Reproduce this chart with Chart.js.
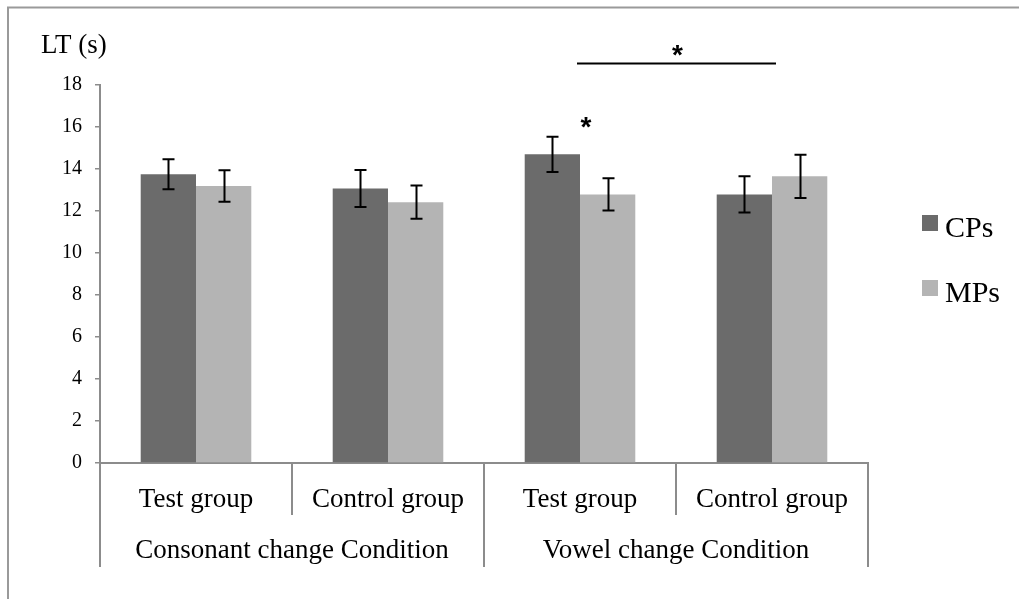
<!DOCTYPE html>
<html>
<head>
<meta charset="utf-8">
<script src="https://cdn.jsdelivr.net/npm/chart.js@4.4.1/dist/chart.umd.min.js"></script>
<style>
  html, body { margin: 0; padding: 0; background: #fff; }
  #wrap { width: 1019px; height: 599px; position: relative; }
</style>
</head>
<body>
<div id="wrap"><canvas id="c" width="1019" height="599"></canvas></div>
<script>
// ---- data ----
const categories = ["Test group", "Control group", "Test group", "Control group"];
const groupLabels = ["Consonant change Condition", "Vowel change Condition"];
const seriesNames = ["CPs", "MPs"];
const cpsValues = [13.75, 13.07, 14.70, 12.79];
const mpsValues = [13.19, 12.42, 12.79, 13.65];
const cpsErrors = [0.72, 0.88, 0.84, 0.86];
const mpsErrors = [0.75, 0.79, 0.77, 1.03];
const yTicks = [0, 2, 4, 6, 8, 10, 12, 14, 16, 18];
const yAxisTitle = "LT (s)";
const sigMark = "*";

const SERIF = "'Liberation Serif', 'Times New Roman', serif";
const AXIS_GRAY = '#8c8c8c';

const decor = {
  id: 'decor',
  beforeDraw(chart) {
    const ctx = chart.ctx;
    ctx.save();
    ctx.fillStyle = '#fff';
    ctx.fillRect(0, 0, chart.width, chart.height);
    // outer frame (top + left)
    ctx.strokeStyle = '#9a9a9a';
    ctx.lineWidth = 2;
    ctx.beginPath();
    ctx.moveTo(8, 599);
    ctx.lineTo(8, 7.5);
    ctx.lineTo(1019, 7.5);
    ctx.stroke();
    ctx.restore();
  },
  afterDraw(chart) {
    const ctx = chart.ctx;
    const x = chart.scales.x, y = chart.scales.y;
    const area = chart.chartArea;
    ctx.save();

    // error bars
    ctx.strokeStyle = '#000';
    ctx.lineWidth = 2;
    chart.data.datasets.forEach((ds, di) => {
      const meta = chart.getDatasetMeta(di);
      meta.data.forEach((bar, i) => {
        const v = ds.data[i], e = ds.errors[i];
        const t = y.getPixelForValue(v + e), b = y.getPixelForValue(v - e);
        const cx = Math.round(bar.x) + 0.5;
        ctx.beginPath();
        ctx.moveTo(cx, t); ctx.lineTo(cx, b);
        ctx.moveTo(cx - 6, t); ctx.lineTo(cx + 6, t);
        ctx.moveTo(cx - 6, b); ctx.lineTo(cx + 6, b);
        ctx.stroke();
      });
    });

    // category dividers
    const n = categories.length;
    const half = (x.getPixelForValue(1) - x.getPixelForValue(0)) / 2;
    ctx.strokeStyle = AXIS_GRAY;
    ctx.lineWidth = 2;
    for (let i = 0; i <= n; i++) {
      const px = Math.round(i < n ? x.getPixelForValue(i) - half : x.getPixelForValue(n - 1) + half);
      const len = (i % 2 === 0) ? 104 : 52;
      ctx.beginPath();
      ctx.moveTo(px, area.bottom);
      ctx.lineTo(px, area.bottom + len);
      ctx.stroke();
    }

    // group labels
    ctx.fillStyle = '#000';
    ctx.font = '27px ' + SERIF;
    ctx.textAlign = 'center';
    ctx.textBaseline = 'alphabetic';
    groupLabels.forEach((g, gi) => {
      const cx = (x.getPixelForValue(gi * 2) + x.getPixelForValue(gi * 2 + 1)) / 2;
      ctx.fillText(g, cx, area.bottom + 95);
    });

    // y axis title
    ctx.font = '27px ' + SERIF;
    ctx.textAlign = 'left';
    ctx.fillText(yAxisTitle, 41, 53);

    // legend
    chart.data.datasets.forEach((ds, di) => {
      const top = 215 + di * 65;
      ctx.fillStyle = ds.backgroundColor;
      ctx.fillRect(922, top, 16, 16);
      ctx.fillStyle = '#000';
      ctx.font = '30px ' + SERIF;
      ctx.textAlign = 'left';
      ctx.fillText(ds.label, 945, top + 22);
    });

    // significance line + asterisks
    const x1 = x.getPixelForValue(2) - 3, x2 = x.getPixelForValue(3) + 4;
    const ly = Math.round(y.getPixelForValue(19.05)) + 0.5;
    ctx.strokeStyle = '#000';
    ctx.lineWidth = 2;
    ctx.beginPath();
    ctx.moveTo(x1, ly); ctx.lineTo(x2, ly);
    ctx.stroke();
    ctx.font = 'bold 28px "Liberation Sans", Arial, sans-serif';
    ctx.textAlign = 'center';
    ctx.fillStyle = '#000';
    ctx.fillText(sigMark, (x1 + x2) / 2 + 1, y.getPixelForValue(19.8) + 17);
    ctx.fillText(sigMark, x.getPixelForValue(2) + 6, y.getPixelForValue(16.38) + 17);

    ctx.restore();
  }
};

new Chart(document.getElementById('c'), {
  type: 'bar',
  data: {
    labels: categories,
    datasets: [
      { label: seriesNames[0], data: cpsValues, errors: cpsErrors, backgroundColor: '#6b6b6b',
        borderWidth: 0, categoryPercentage: 0.576, barPercentage: 1.0 },
      { label: seriesNames[1], data: mpsValues, errors: mpsErrors, backgroundColor: '#b4b4b4',
        borderWidth: 0, categoryPercentage: 0.576, barPercentage: 1.0 }
    ]
  },
  options: {
    responsive: false,
    animation: false,
    devicePixelRatio: 1,
    layout: { padding: { left: 0, top: 85, right: 151, bottom: 0 } },
    plugins: {
      legend: { display: false },
      tooltip: { enabled: false }
    },
    scales: {
      x: {
        afterFit: s => { s.height = 136; },
        grid: { display: false, drawTicks: false },
        border: { display: true, color: AXIS_GRAY, width: 2 },
        ticks: { font: { family: SERIF, size: 27 }, color: '#000', padding: 21, maxRotation: 0, autoSkip: false }
      },
      y: {
        min: 0, max: 18,
        afterFit: s => { s.width = 100; },
        afterBuildTicks: s => { s.ticks = yTicks.map(v => ({ value: v })); },
        grid: { drawOnChartArea: false, drawTicks: true, tickLength: 5, color: AXIS_GRAY, lineWidth: 1.5 },
        border: { display: true, color: AXIS_GRAY, width: 2 },
        ticks: { font: { family: SERIF, size: 20 }, color: '#000', padding: 13 }
      }
    }
  },
  plugins: [decor]
});
</script>
</body>
</html>
